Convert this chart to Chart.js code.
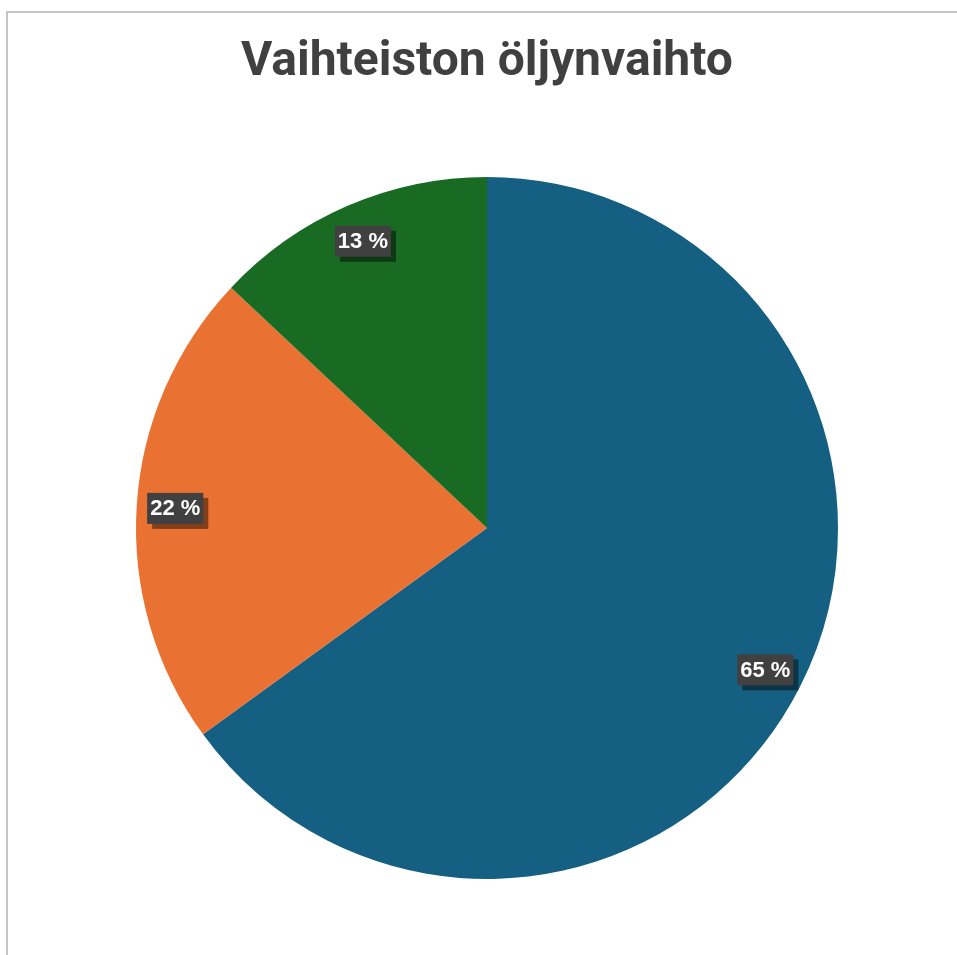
<!DOCTYPE html>
<html>
<head>
<meta charset="utf-8">
<script src="https://cdn.jsdelivr.net/npm/chart.js@4"></script>
<style>
html,body{margin:0;padding:0;background:#fff;overflow:hidden;}
#frame{position:absolute;left:6px;top:11px;width:1000px;height:1000px;border:2px solid #c4c4c4;box-sizing:border-box;}
#wrap{position:absolute;left:0;top:0;width:957px;height:955px;}
</style>
</head>
<body>
<div id="frame"></div>
<div id="wrap"><canvas id="c"></canvas></div>
<script>
const categories = ["Sarja 1", "Sarja 2", "Sarja 3"];
const values = [65, 22, 13];
const labelsText = ["65 %", "22 %", "13 %"];
const colors = ["#156082", "#E97132", "#196B24"];

const labelPlugin = {
  id: 'boxLabels',
  afterDatasetsDraw(chart) {
    const ctx = chart.ctx;
    const meta = chart.getDatasetMeta(0);
    ctx.save();
    ctx.font = 'bold 22px "Liberation Sans", Arial, sans-serif';
    ctx.textAlign = 'center';
    ctx.textBaseline = 'middle';
    meta.data.forEach((arc, i) => {
      const p = arc.getProps(['x','y','startAngle','endAngle','outerRadius'], true);
      const mid = (p.startAngle + p.endAngle) / 2;
      const r = p.outerRadius * 0.89;
      const x = p.x + Math.cos(mid) * r;
      const y = p.y + Math.sin(mid) * r;
      const t = labelsText[i];
      const w = ctx.measureText(t).width + 6;
      const h = 31;
      ctx.fillStyle = 'rgba(0,0,0,0.45)';
      ctx.fillRect(x - w/2 + 5, y - h/2 + 5, w, h);
      ctx.fillStyle = '#404040';
      ctx.fillRect(x - w/2, y - h/2, w, h);
      ctx.fillStyle = '#ffffff';
      ctx.fillText(t, x, y + 1);
    });
    ctx.restore();
  }
};

new Chart(document.getElementById('c'), {
  type: 'pie',
  data: {
    labels: categories,
    datasets: [{ data: values, backgroundColor: colors, borderWidth: 0 }]
  },
  options: {
    responsive: true,
    maintainAspectRatio: false,
    animation: false,
    layout: { padding: { left: 136, right: 119, top: 0, bottom: 76 } },
    plugins: {
      legend: { display: false },
      tooltip: { enabled: false },
      title: {
        display: true,
        text: 'Vaihteiston öljynvaihto',
        color: '#404040',
        font: { family: 'Roboto, "Liberation Sans", sans-serif', size: 48, weight: 'bold', lineHeight: 1.2 },
        padding: { top: 34.5, bottom: 84.9 }
      }
    }
  },
  plugins: [labelPlugin]
});
</script>
</body>
</html>
